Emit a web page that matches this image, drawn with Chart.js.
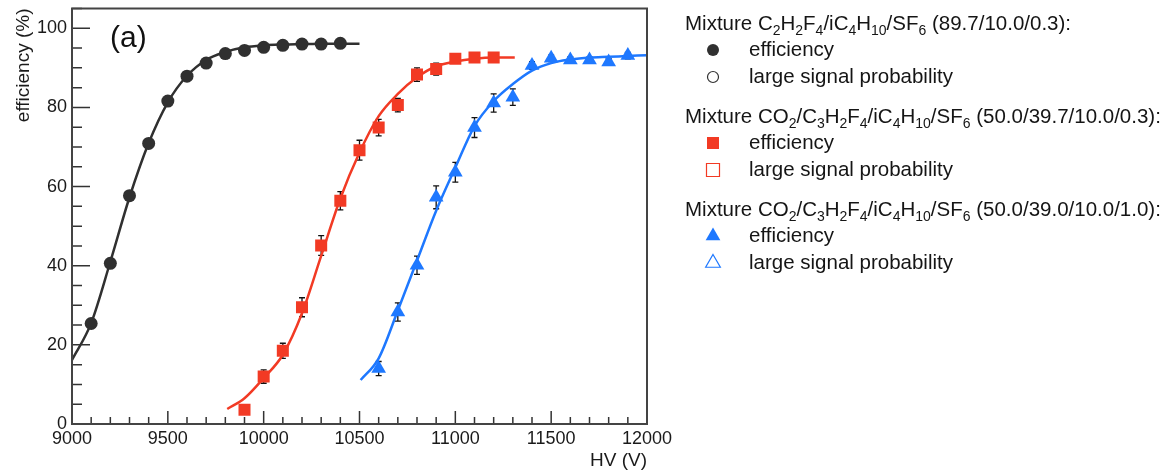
<!DOCTYPE html>
<html>
<head>
<meta charset="utf-8">
<script src="https://cdn.jsdelivr.net/npm/chart.js@4"></script>
<style>
  html, body { margin: 0; padding: 0; background: #fff; }
  #wrap { width: 1163px; height: 472px; }
</style>
</head>
<body>
<div id="wrap"><canvas id="eff" width="1163" height="472"></canvas></div>
<script>
// measured points (HV in volts, efficiency in %)
const hvBlack = [9100, 9200, 9300, 9400, 9500, 9600, 9700, 9800, 9900, 10000, 10100, 10200, 10300, 10400];
const effBlack = [25.4, 40.6, 57.7, 70.9, 81.6, 87.9, 91.2, 93.6, 94.4, 95.2, 95.7, 96.0, 96.0, 96.2];

const hvRed = [9900, 10000, 10100, 10200, 10300, 10400, 10500, 10600, 10700, 10800, 10900, 11000, 11100, 11200];
const effRed = [3.6, 12.0, 18.5, 29.5, 45.1, 56.4, 69.2, 74.9, 80.6, 88.3, 89.7, 92.3, 92.6, 92.6];
const errRed = [0.8, 1.7, 1.9, 2.4, 2.5, 2.3, 2.5, 2.1, 1.7, 1.7, 1.5, 1.0, 0.8, 0.8];

const hvBlue = [10600, 10700, 10800, 10900, 11000, 11100, 11200, 11300, 11400, 11500, 11600, 11700, 11800, 11900];
const effBlue = [14.0, 28.3, 40.1, 57.3, 63.6, 74.9, 81.1, 82.6, 90.6, 92.4, 92.0, 92.0, 91.5, 93.1];
const errBlue = [1.8, 2.3, 2.3, 2.9, 2.5, 2.5, 2.3, 2.1, 1.0, 0.8, 0.8, 0.8, 0.8, 0.8];

// fitted curves
const fitBlackHV = [9000, 9100, 9200, 9300, 9400, 9500, 9600, 9700, 9800, 9900, 10000, 10100, 10200, 10300, 10400, 10500];
const fitBlackEff = [16.2, 25.5, 41.0, 57.3, 71.0, 81.3, 88.0, 92.0, 94.0, 95.2, 95.7, 95.9, 96.0, 96.1, 96.1, 96.1];

const fitRedHV = [9810, 9900, 10000, 10100, 10200, 10300, 10400, 10500, 10600, 10700, 10800, 10900, 11000, 11100, 11200, 11310];
const fitRedEff = [3.8, 6.5, 11.6, 17.5, 28.0, 42.5, 57.0, 68.6, 77.8, 83.4, 87.6, 90.4, 91.6, 92.3, 92.6, 92.6];

const fitBlueHV = [10506, 10600, 10700, 10800, 10900, 11000, 11100, 11200, 11300, 11400, 11500, 11600, 11700, 11800, 11900, 12000];
const fitBlueEff = [11.1, 16.6, 28.7, 41.3, 53.9, 64.8, 75.3, 81.6, 85.9, 89.3, 91.2, 92.1, 92.6, 92.8, 93.0, 93.2];

const xTicks = [9000, 9500, 10000, 10500, 11000, 11500, 12000];
const yTicks = [0, 20, 40, 60, 80, 100];

const mixLabels = [
  'Mixture C_2H_2F_4/iC_4H_{10}/SF_6 (89.7/10.0/0.3):',
  'Mixture CO_2/C_3H_2F_4/iC_4H_{10}/SF_6 (50.0/39.7/10.0/0.3):',
  'Mixture CO_2/C_3H_2F_4/iC_4H_{10}/SF_6 (50.0/39.0/10.0/1.0):'
];
const entryLabels = ['efficiency', 'large signal probability'];

const FAM = '"Liberation Sans", Arial, Helvetica, sans-serif';
const BLACK = '#303030';
const RED = '#f23a24';
const BLUE = '#1e78ff';

Chart.defaults.font.family = FAM;
Chart.defaults.color = '#1a1a1a';

function pts(xs, ys) {
  return xs.map((x, i) => ({ x: x, y: ys[i] }));
}

function drawRich(ctx, str, x, y, size) {
  const parts = str.split(/(_\{[^}]*\}|_.)/);
  for (const p of parts) {
    if (!p) continue;
    const sub = p[0] === '_';
    const t = sub ? p.replace(/^_\{?/, '').replace(/\}$/, '') : p;
    ctx.font = (sub ? Math.round(size * 0.68) : size) + 'px ' + FAM;
    ctx.fillText(t, x, sub ? y + size * 0.24 : y);
    x += ctx.measureText(t).width;
  }
}

function marker(ctx, style, x, y, color, filled) {
  ctx.save();
  ctx.fillStyle = color;
  ctx.strokeStyle = color;
  ctx.lineWidth = 1.2;
  ctx.beginPath();
  if (style === 'circle') {
    ctx.arc(x, y, filled ? 6 : 5.5, 0, Math.PI * 2);
  } else if (style === 'rect') {
    const h = filled ? 6 : 6.5;
    ctx.rect(x - h, y - h, 2 * h, 2 * h);
  } else {
    const r = 8.5;
    ctx.moveTo(x, y - r);
    ctx.lineTo(x + r * 0.866, y + r * 0.5);
    ctx.lineTo(x - r * 0.866, y + r * 0.5);
    ctx.closePath();
  }
  if (filled) ctx.fill(); else ctx.stroke();
  ctx.restore();
}

const errorBars = {
  id: 'errorBars',
  beforeDatasetsDraw(chart) {
    const { ctx, scales: { x, y } } = chart;
    ctx.save();
    ctx.strokeStyle = '#111';
    ctx.lineWidth = 1.3;
    const sets = [[hvRed, effRed, errRed], [hvBlue, effBlue, errBlue]];
    sets.forEach(([hv, ef, er]) => {
      hv.forEach((v, i) => {
        const px = x.getPixelForValue(v);
        const y1 = y.getPixelForValue(ef[i] + er[i]);
        const y2 = y.getPixelForValue(ef[i] - er[i]);
        ctx.beginPath();
        ctx.moveTo(px, y1); ctx.lineTo(px, y2);
        ctx.moveTo(px - 3, y1); ctx.lineTo(px + 3, y1);
        ctx.moveTo(px - 3, y2); ctx.lineTo(px + 3, y2);
        ctx.stroke();
      });
    });
    ctx.restore();
  }
};

const rootFrame = {
  id: 'rootFrame',
  afterDraw(chart) {
    const { ctx, chartArea: a, scales: { x, y } } = chart;
    ctx.save();
    ctx.strokeStyle = '#333';
    ctx.lineWidth = 1.5;
    ctx.beginPath();
    for (let v = 9000; v <= 12000; v += 100) {
      const px = x.getPixelForValue(v);
      const len = v % 500 === 0 ? 13 : 7;
      ctx.moveTo(px, a.bottom); ctx.lineTo(px, a.bottom - len);
    }
    for (let v = 0; v <= 105; v += 5) {
      const py = y.getPixelForValue(v);
      const len = v % 20 === 0 ? 18 : 10;
      ctx.moveTo(a.left, py); ctx.lineTo(a.left + len, py);
    }
    ctx.stroke();
    ctx.strokeStyle = '#444';
    ctx.lineWidth = 2;
    ctx.strokeRect(a.left, a.top, a.right - a.left, a.bottom - a.top);

    ctx.fillStyle = '#111';
    ctx.font = '30px ' + FAM;
    ctx.textBaseline = 'middle';
    ctx.fillText('(a)', 110, 39);

    // legend
    ctx.textBaseline = 'alphabetic';
    const colors = [BLACK, RED, BLUE];
    const styles = ['circle', 'rect', 'triangle'];
    const heads = [30, 123, 216];
    heads.forEach((hy, k) => {
      ctx.fillStyle = '#151515';
      drawRich(ctx, mixLabels[k], 685, hy, 20.5);
      const r1 = hy + 26, r2 = hy + 53;
      ctx.font = '20.5px ' + FAM;
      ctx.fillText(entryLabels[0], 749, r1);
      ctx.fillText(entryLabels[1], 749, r2);
      marker(ctx, styles[k], 713, r1 - 6, colors[k], true);
      marker(ctx, styles[k], 713, r2 - 6, colors[k], false);
    });
    ctx.restore();
  }
};

const fitStyle = (color) => ({
  showLine: true,
  borderColor: color,
  borderWidth: 2.5,
  pointRadius: 0,
  cubicInterpolationMode: 'monotone',
  fill: false
});

new Chart(document.getElementById('eff'), {
  type: 'scatter',
  data: {
    datasets: [
      { label: 'black eff', data: pts(hvBlack, effBlack), pointStyle: 'circle', pointRadius: 6.5,
        backgroundColor: BLACK, borderColor: BLACK, borderWidth: 0 },
      { label: 'red eff', data: pts(hvRed, effRed), pointStyle: 'rect', pointRadius: 8.5,
        backgroundColor: RED, borderColor: RED, borderWidth: 0 },
      { label: 'blue eff', data: pts(hvBlue, effBlue), pointStyle: 'triangle', pointRadius: 8.5,
        backgroundColor: BLUE, borderColor: BLUE, borderWidth: 0 },
      Object.assign({ label: 'black fit', data: pts(fitBlackHV, fitBlackEff) }, fitStyle(BLACK)),
      Object.assign({ label: 'red fit', data: pts(fitRedHV, fitRedEff) }, fitStyle(RED)),
      Object.assign({ label: 'blue fit', data: pts(fitBlueHV, fitBlueEff) }, fitStyle(BLUE))
    ]
  },
  options: {
    responsive: false,
    animation: false,
    devicePixelRatio: 1,
    layout: { padding: { top: 7, right: 516, left: 0, bottom: 0 } },
    plugins: { legend: { display: false }, tooltip: { enabled: false } },
    scales: {
      x: {
        type: 'linear', min: 9000, max: 12000,
        grid: { display: false, drawTicks: false },
        border: { display: false },
        afterBuildTicks: (s) => { s.ticks = xTicks.map(v => ({ value: v })); },
        afterFit: (s) => { s.height = 48; s.paddingLeft = 0; s.paddingRight = 0; },
        ticks: { padding: 4, font: { size: 18 }, color: '#1a1a1a', maxRotation: 0, autoSkip: false,
                 callback: (v) => String(v) },
        title: { display: true, text: 'HV (V)', align: 'end', font: { size: 19 }, color: '#1a1a1a',
                 padding: { top: 0, bottom: 0 } }
      },
      y: {
        type: 'linear', min: 0, max: 105,
        grid: { display: false, drawTicks: false },
        border: { display: false },
        afterBuildTicks: (s) => { s.ticks = yTicks.map(v => ({ value: v })); },
        afterFit: (s) => { s.width = 72; s.paddingTop = 0; s.paddingBottom = 0; },
        ticks: { padding: 5, font: { size: 18 }, color: '#1a1a1a', callback: (v) => String(v) },
        title: { display: true, text: 'efficiency (%)', align: 'end', font: { size: 19 }, color: '#1a1a1a',
                 padding: { top: 12, bottom: 0 } }
      }
    }
  },
  plugins: [errorBars, rootFrame]
});
</script>
</body>
</html>
